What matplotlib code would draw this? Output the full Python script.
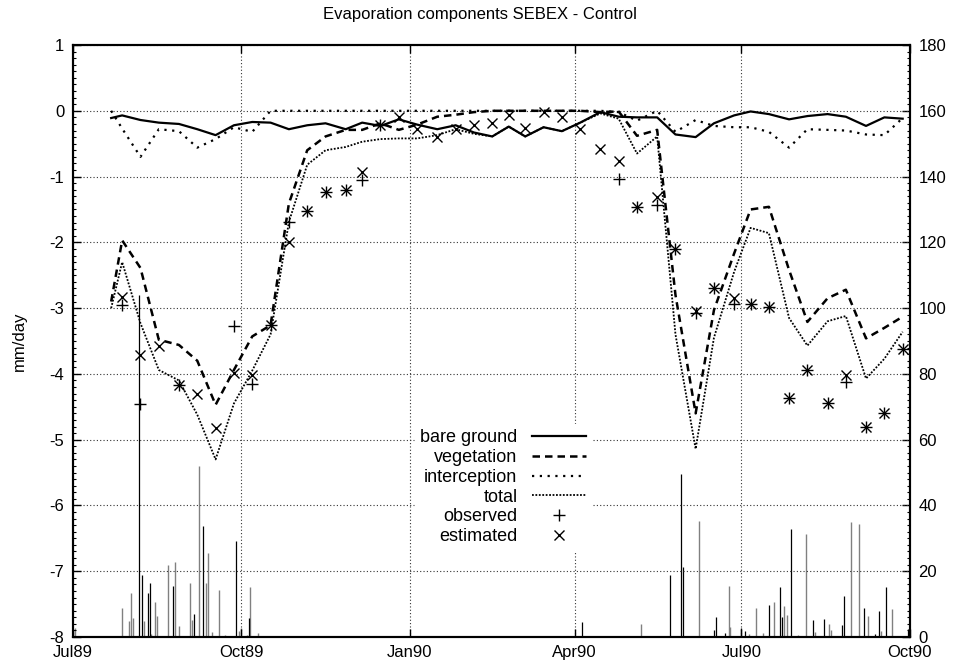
import numpy as np
import matplotlib.pyplot as plt
from matplotlib.ticker import MultipleLocator

plt.rcParams['font.family'] = ['Liberation Sans', 'DejaVu Sans']
plt.rcParams['axes.unicode_minus'] = False

nan = np.nan

# days since 1 Jul 1989 (dekad values)
days = [21, 27, 37, 47, 58, 68, 78, 88, 98, 108, 118, 128, 138, 149, 158, 168,
        178, 188, 199, 209, 219, 229, 238, 247, 257, 267, 277, 288, 298, 308,
        319, 329, 340, 350, 361, 370, 380, 391, 401, 412, 422, 433, 443, 453]

bare_ground = [-0.11, -0.07, -0.14, -0.18, -0.20, -0.28, -0.37, -0.22, -0.17, -0.18,
               -0.28, -0.22, -0.19, -0.28, -0.18, -0.23, -0.13, -0.21, -0.28, -0.22,
               -0.33, -0.39, -0.24, -0.39, -0.25, -0.31, -0.18, -0.02, -0.09, -0.10,
               -0.10, -0.36, -0.40, -0.19, -0.07, -0.01, -0.05, -0.13, -0.08, -0.05,
               -0.09, -0.23, -0.10, -0.12]
vegetation = [-2.90, -1.97, -2.39, -3.48, -3.56, -3.80, -4.47, -3.94, -3.43, -3.26,
              -1.41, -0.60, -0.39, -0.29, -0.29, -0.19, -0.29, -0.21, -0.09, -0.06,
              -0.02, 0.0, 0.0, 0.0, 0.0, 0.0, 0.0, -0.02, -0.01, -0.38,
              -0.29, -2.80, -4.60, -3.03, -2.17, -1.50, -1.46, -2.42, -3.21, -2.85,
              -2.72, -3.46, -3.30, -3.13]
interception = [0.0, -0.27, -0.70, -0.28, -0.31, -0.56, -0.43, -0.25, -0.32, 0.0,
                0.0, 0.0, 0.0, 0.0, 0.0, 0.0, 0.0, 0.0, 0.0, 0.0,
                0.0, 0.0, 0.0, 0.0, 0.0, 0.0, 0.0, 0.0, -0.02, -0.15,
                0.0, -0.32, -0.14, -0.23, -0.25, -0.25, -0.32, -0.56, -0.28, -0.29,
                -0.30, -0.36, -0.37, -0.11]
total = [-3.00, -2.30, -3.23, -3.94, -4.10, -4.62, -5.30, -4.45, -3.95, -3.40,
         -1.69, -0.82, -0.60, -0.55, -0.47, -0.43, -0.42, -0.42, -0.37, -0.28,
         -0.35, -0.39, -0.24, -0.39, -0.25, -0.31, -0.18, -0.04, -0.12, -0.65,
         -0.39, -3.40, -5.14, -3.45, -2.45, -1.78, -1.86, -3.15, -3.57, -3.20,
         -3.12, -4.07, -3.77, -3.36]
observed = [nan, -2.95, -4.46, nan, -4.17, nan, nan, -3.27, -4.15, -3.26,
            -1.69, -1.53, -1.24, -1.21, -1.05, -0.22, nan, nan, nan, nan,
            nan, nan, nan, nan, nan, nan, nan, nan, -1.04, -1.46,
            -1.43, -2.10, -3.08, -2.70, -2.94, -2.94, -2.99, -4.37, -3.94, -4.44,
            -4.12, -4.81, -4.59, -3.62]
estimated = [nan, -2.83, -3.71, -3.57, -4.17, -4.30, -4.82, -3.98, -4.01, -3.26,
             -1.99, -1.53, -1.24, -1.21, -0.93, -0.22, -0.09, -0.27, -0.40, -0.27,
             -0.22, -0.19, -0.06, -0.26, -0.02, -0.10, -0.27, -0.58, -0.77, -1.46,
             -1.31, -2.10, -3.04, -2.70, -2.85, -2.94, -2.99, -4.37, -3.94, -4.44,
             -4.02, -4.81, -4.59, -3.62]

# daily rainfall (right axis, mm)
rain_grey_days = [1, 27, 31, 32, 33, 39, 43, 45, 46, 52, 56, 58, 64, 65, 69, 73, 74,
                  76, 80, 83, 91, 92, 95, 97, 101,
                  310, 342, 358, 359, 369, 373, 377, 383, 388, 390, 396, 400, 405,
                  413, 414, 425, 429, 434, 441, 447]
rain_grey = [2.7, 8.7, 5.0, 13.3, 5.7, 5.0, 1.0, 10.7, 6.4, 21.9, 22.9, 3.3, 16.5,
             5.2, 52.0, 16.5, 25.4, 1.5, 14.3, 0.5, 1.9, 2.6, 0.5, 15.3, 1.3,
             4.1, 35.4, 15.6, 2.9, 0.8, 8.7, 1.2, 10.7, 9.4, 6.7, 0.5, 31.3, 1.5,
             3.9, 2.1, 35.1, 34.4, 6.4, 1.8, 8.4]
rain_black_days = [36, 38, 41, 42, 55, 66, 71, 89, 96,
                   278, 326, 332, 333, 350, 351, 356, 365, 367, 380, 386, 387, 392,
                   404, 410, 420, 421, 432, 438, 440, 444, 456]
rain_black = [104.0, 18.9, 13.3, 16.3, 15.5, 6.9, 33.8, 29.3, 5.7,
              4.5, 18.8, 49.7, 21.2, 2.2, 6.2, 1.2, 2.6, 1.7, 9.7, 15.3, 6.2, 32.7,
              5.2, 5.4, 3.6, 12.5, 8.7, 0.8, 7.9, 15.3, 2.4]

xtick_days = [0, 92, 184, 274, 365, 457]
xtick_labels = ['Jul89', 'Oct89', 'Jan90', 'Apr90', 'Jul90', 'Oct90']

fig = plt.figure(figsize=(9.59, 6.68), dpi=100)
ax = fig.add_axes([0.0758, 0.0464, 0.8731, 0.8862])
ax2 = ax.twinx()

ax2.vlines(rain_grey_days, 0, rain_grey, colors='#808080', linewidth=1.0)
ax2.vlines(rain_black_days, 0, rain_black, colors='black', linewidth=0.9)
ax2.set_ylim(0, 180)
ax2.set_yticks(np.arange(0, 181, 20))
ax2.yaxis.set_minor_locator(MultipleLocator(2))

ax.set_zorder(ax2.get_zorder() + 1)
ax.patch.set_visible(False)

ax.plot(days, bare_ground, color='black', lw=1.6, ls='-', label='bare ground')
ax.plot(days, vegetation, color='black', lw=1.8, ls=(0, (3, 2)), label='vegetation')
ax.plot(days, interception, color='black', lw=1.6, ls=(0, (1, 2.5)), label='interception')
ax.plot(days, total, color='black', lw=1.3, ls=(0, (1, 0.9)), label='total')
ax.plot(days, observed, ls='none', marker='+', ms=8, mew=1.0, color='black', label='observed')
ax.plot(days, estimated, ls='none', marker='x', ms=7, mew=1.0, color='black', label='estimated')

ax.set_xlim(0, 457)
ax.set_ylim(-8, 1)
ax.set_xticks(xtick_days)
ax.set_xticklabels(xtick_labels)
ax.set_yticks(np.arange(-8, 2, 1))
ax.yaxis.set_minor_locator(MultipleLocator(0.1))
ax.grid(True, which='major', color='#333333', lw=0.8, ls=(0, (1, 2)))

ax.tick_params(which='major', direction='in', length=6, width=1, top=True,
               labelsize=12, pad=6)
ax.tick_params(which='minor', direction='in', length=2.5, width=0.8)
ax2.tick_params(which='major', direction='in', length=6, width=1, labelsize=12, pad=6)
ax2.tick_params(which='minor', direction='in', length=2.5, width=0.8)
for a in (ax, ax2):
    for s in a.spines.values():
        s.set_linewidth(1.5)

ax.set_ylabel('mm/day', fontsize=12, labelpad=16)
fig.text(0.5, 1 - 14 / 668, 'Evaporation components SEBEX - Control',
         ha='center', va='center', fontsize=12)

leg = ax.legend(loc='center', bbox_to_anchor=(0.514, 0.253), markerfirst=False,
                handlelength=3.0, handletextpad=0.8, labelspacing=0.15,
                fontsize=13, frameon=True, fancybox=False, edgecolor='white',
                facecolor='white', framealpha=1, borderpad=0.3)

fig.savefig('out.png', dpi=100)
